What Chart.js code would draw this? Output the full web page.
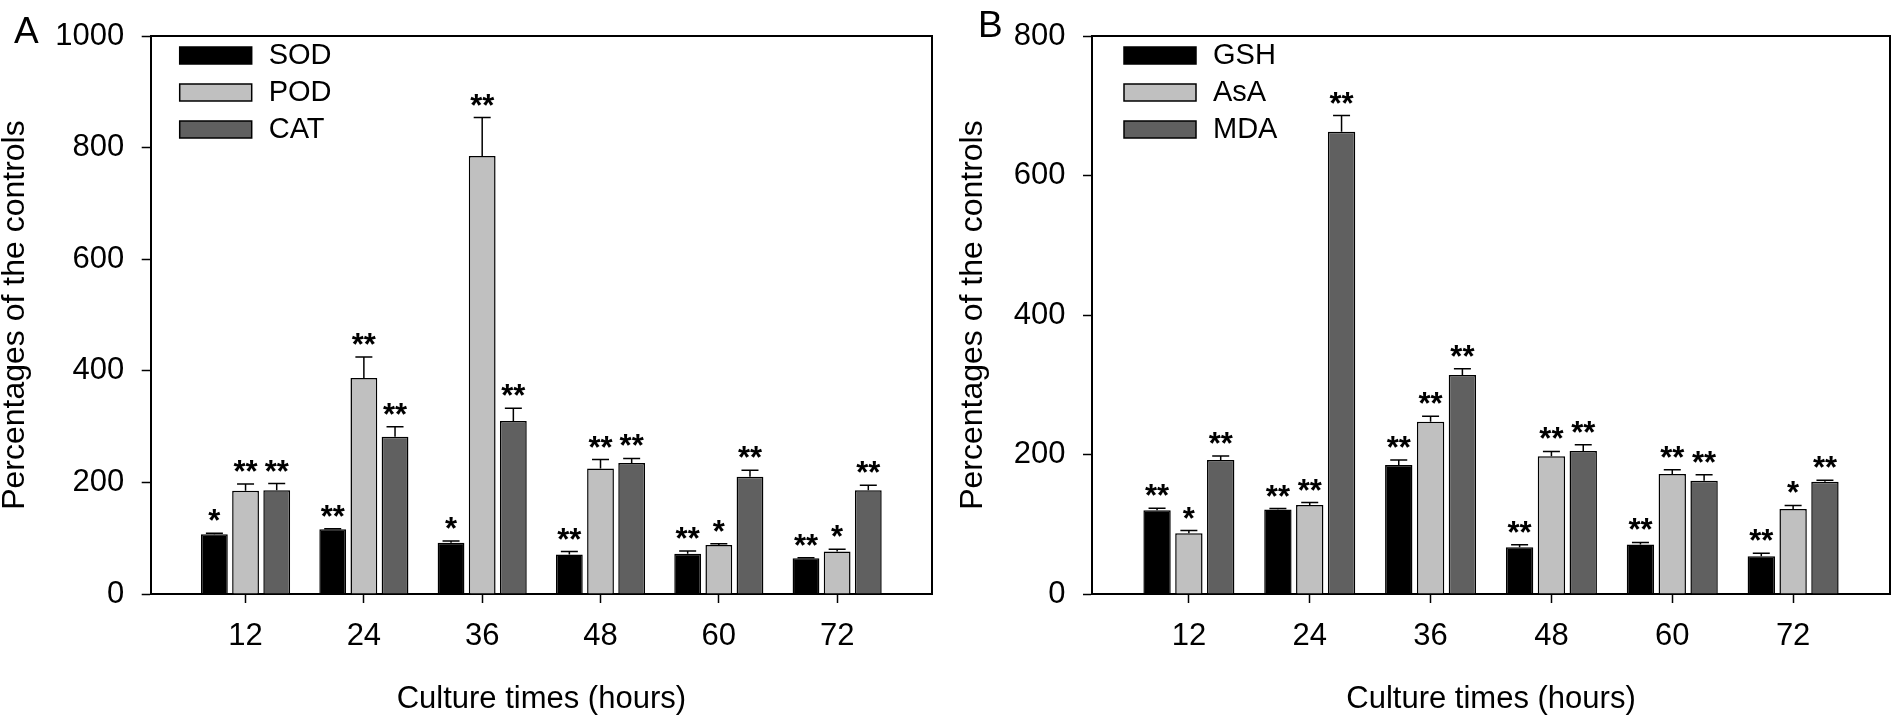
<!DOCTYPE html>
<html>
<head>
<meta charset="utf-8">
<script src="https://cdn.jsdelivr.net/npm/chart.js@4.4.1/dist/chart.umd.min.js"></script>
<style>
    html, body { margin: 0; padding: 0; background: #fff; }
    #wrap { position: relative; width: 1892px; height: 717px; }
    .panel { position: absolute; top: 0; width: 946px; height: 717px; }
</style>
</head>
<body>
<div id="wrap">
    <div class="panel" style="left:0"><canvas id="chartA" width="946" height="717"></canvas></div>
    <div class="panel" style="left:946px"><canvas id="chartB" width="946" height="717"></canvas></div>
</div>
<script>
// culture times (x axis)
const hours = [12, 24, 36, 48, 60, 72];
const hourLabels = ['12', '24', '36', '48', '60', '72'];

// panel A - enzymes
const sodValues = [107, 116, 92, 71, 72, 64];
const sodErrors = [2, 1, 3, 5, 5, 1];
const sodMarks = ['*', '**', '*', '**', '**', '**'];
const podValues = [185, 387, 785, 225, 88, 76];
const podErrors = [12, 38, 69, 16, 2, 4];
const podMarks = ['**', '**', '**', '**', '*', '*'];
const catValues = [186, 282, 310, 235, 210, 186];
const catErrors = [12, 18, 23, 8, 12, 9];
const catMarks = ['**', '**', '**', '**', '**', '**'];

// panel B - antioxidants and MDA
const gshValues = [120, 121, 185, 67, 71, 54];
const gshErrors = [3, 1.5, 7, 3.5, 3, 4.4];
const gshMarks = ['**', '**', '**', '**', '**', '**'];
const asaValues = [87, 127.6, 247, 197.5, 172, 122];
const asaErrors = [4, 3.5, 8, 7, 6, 5];
const asaMarks = ['*', '**', '**', '**', '**', '*'];
const mdaValues = [192, 663, 314, 205, 162.5, 161];
const mdaErrors = [6, 23, 9, 9, 8.5, 2];
const mdaMarks = ['**', '**', '**', '**', '**', '**'];

const yTicksA = [0, 200, 400, 600, 800, 1000];
const yTicksB = [0, 200, 400, 600, 800];

const FONT = 'Liberation Sans, Arial, sans-serif';
const fills = ['#000000', '#c0c0c0', '#606060'];

function makeDataset(label, values, errors, marks, color) {
    return {
        label: label,
        data: hours.map((h, i) => ({ x: h, y: values[i] })),
        errors: errors,
        marks: marks,
        backgroundColor: color,
        borderColor: '#000',
        borderWidth: 1.5,
        categoryPercentage: 0.79,
        barPercentage: 0.86
    };
}

// error bars + significance stars, legend, frame and panel letter
const extrasPlugin = {
    id: 'extras',
    afterDatasetsDraw(chart, args, opts) {
        const ctx = chart.ctx;
        const yScale = chart.scales.y;
        const area = chart.chartArea;
        ctx.save();
        ctx.strokeStyle = '#000';
        ctx.fillStyle = '#000';
        ctx.lineWidth = 1.5;
        chart.data.datasets.forEach((ds, i) => {
            const meta = chart.getDatasetMeta(i);
            meta.data.forEach((bar, j) => {
                const top = yScale.getPixelForValue(ds.data[j].y + ds.errors[j]);
                ctx.beginPath();
                ctx.moveTo(bar.x, bar.y);
                ctx.lineTo(bar.x, top);
                ctx.moveTo(bar.x - 8.5, top);
                ctx.lineTo(bar.x + 8.5, top);
                ctx.stroke();
                ctx.font = 'bold 31px ' + FONT;
                ctx.textAlign = 'center';
                ctx.textBaseline = 'alphabetic';
                ctx.fillText(ds.marks[j], bar.x, top - 2);
            });
        });

        // frame (top and right)
        ctx.lineWidth = 2;
        ctx.beginPath();
        ctx.moveTo(area.left, area.top);
        ctx.lineTo(area.right, area.top);
        ctx.lineTo(area.right, area.bottom);
        ctx.stroke();

        // legend
        const lx = area.left + opts.legendX;
        chart.data.datasets.forEach((ds, i) => {
            const by = 47 + i * 37;
            ctx.fillStyle = ds.backgroundColor;
            ctx.fillRect(lx, by, 72, 17);
            ctx.lineWidth = 1.5;
            ctx.strokeRect(lx, by, 72, 17);
            ctx.fillStyle = '#000';
            ctx.font = '29px ' + FONT;
            ctx.textAlign = 'left';
            ctx.textBaseline = 'middle';
            ctx.fillText(ds.label, lx + 89, by + 9);
        });

        // panel letter
        ctx.font = '37px ' + FONT;
        ctx.textAlign = 'left';
        ctx.textBaseline = 'alphabetic';
        ctx.fillText(opts.letter, opts.letterX, opts.letterY);
        ctx.restore();
    }
};

function makeChart(id, datasets, yMax, yTicks, opt) {
    const ctx = document.getElementById(id).getContext('2d');
    return new Chart(ctx, {
        type: 'bar',
        data: { datasets: datasets },
        plugins: [extrasPlugin],
        options: {
            responsive: false,
            animation: false,
            layout: { padding: { left: 0, right: opt.padRight, top: 17, bottom: 0 } },
            scales: {
                x: {
                    type: 'linear',
                    min: 2.38,
                    max: 81.62,
                    offset: false,
                    afterFit: s => { s.height = 123; },
                    afterBuildTicks: s => { s.ticks = hours.map(h => ({ value: h })); },
                    ticks: {
                        callback: v => hourLabels[hours.indexOf(v)],
                        color: '#000',
                        font: { family: FONT, size: 31 },
                        padding: 15,
                        maxRotation: 0
                    },
                    grid: { offset: false, drawOnChartArea: false, drawTicks: true, tickLength: 9, tickWidth: 1.5, tickColor: '#000' },
                    border: { display: true, color: '#000', width: 2 },
                    title: {
                        display: true,
                        text: 'Culture times (hours)',
                        color: '#000',
                        font: { family: FONT, size: 31, lineHeight: 1 },
                        padding: { top: 0, bottom: 2 }
                    }
                },
                y: {
                    min: 0,
                    max: yMax,
                    afterFit: s => { s.width = opt.yWidth; },
                    afterBuildTicks: s => { s.ticks = yTicks.map(v => ({ value: v })); },
                    ticks: {
                        callback: v => String(v),
                        color: '#000',
                        font: { family: FONT, size: 31 },
                        padding: 17.5
                    },
                    grid: { drawOnChartArea: false, drawTicks: true, tickLength: 9, tickWidth: 1.5, tickColor: '#000' },
                    border: { display: true, color: '#000', width: 2 },
                    title: {
                        display: true,
                        text: 'Percentages of the controls',
                        color: '#000',
                        font: { family: FONT, size: 32, lineHeight: 0.95 },
                        padding: { top: opt.titlePad, bottom: 0 }
                    }
                }
            },
            plugins: {
                legend: { display: false },
                tooltip: { enabled: false },
                extras: { legendX: opt.legendX, letter: opt.letter, letterX: opt.letterX, letterY: opt.letterY }
            }
        }
    });
}

makeChart('chartA', [
    makeDataset('SOD', sodValues, sodErrors, sodMarks, fills[0]),
    makeDataset('POD', podValues, podErrors, podMarks, fills[1]),
    makeDataset('CAT', catValues, catErrors, catMarks, fills[2])
], 1000, yTicksA, { padRight: 14, yWidth: 150.7, titlePad: 0, legendX: 29, letter: 'A', letterX: 14, letterY: 43 });

makeChart('chartB', [
    makeDataset('GSH', gshValues, gshErrors, gshMarks, fills[0]),
    makeDataset('AsA', asaValues, asaErrors, asaMarks, fills[1]),
    makeDataset('MDA', mdaValues, mdaErrors, mdaMarks, fills[2])
], 800, yTicksB, { padRight: 2, yWidth: 146, titlePad: 12, legendX: 32, letter: 'B', letterX: 32, letterY: 37 });
</script>
</body>
</html>
